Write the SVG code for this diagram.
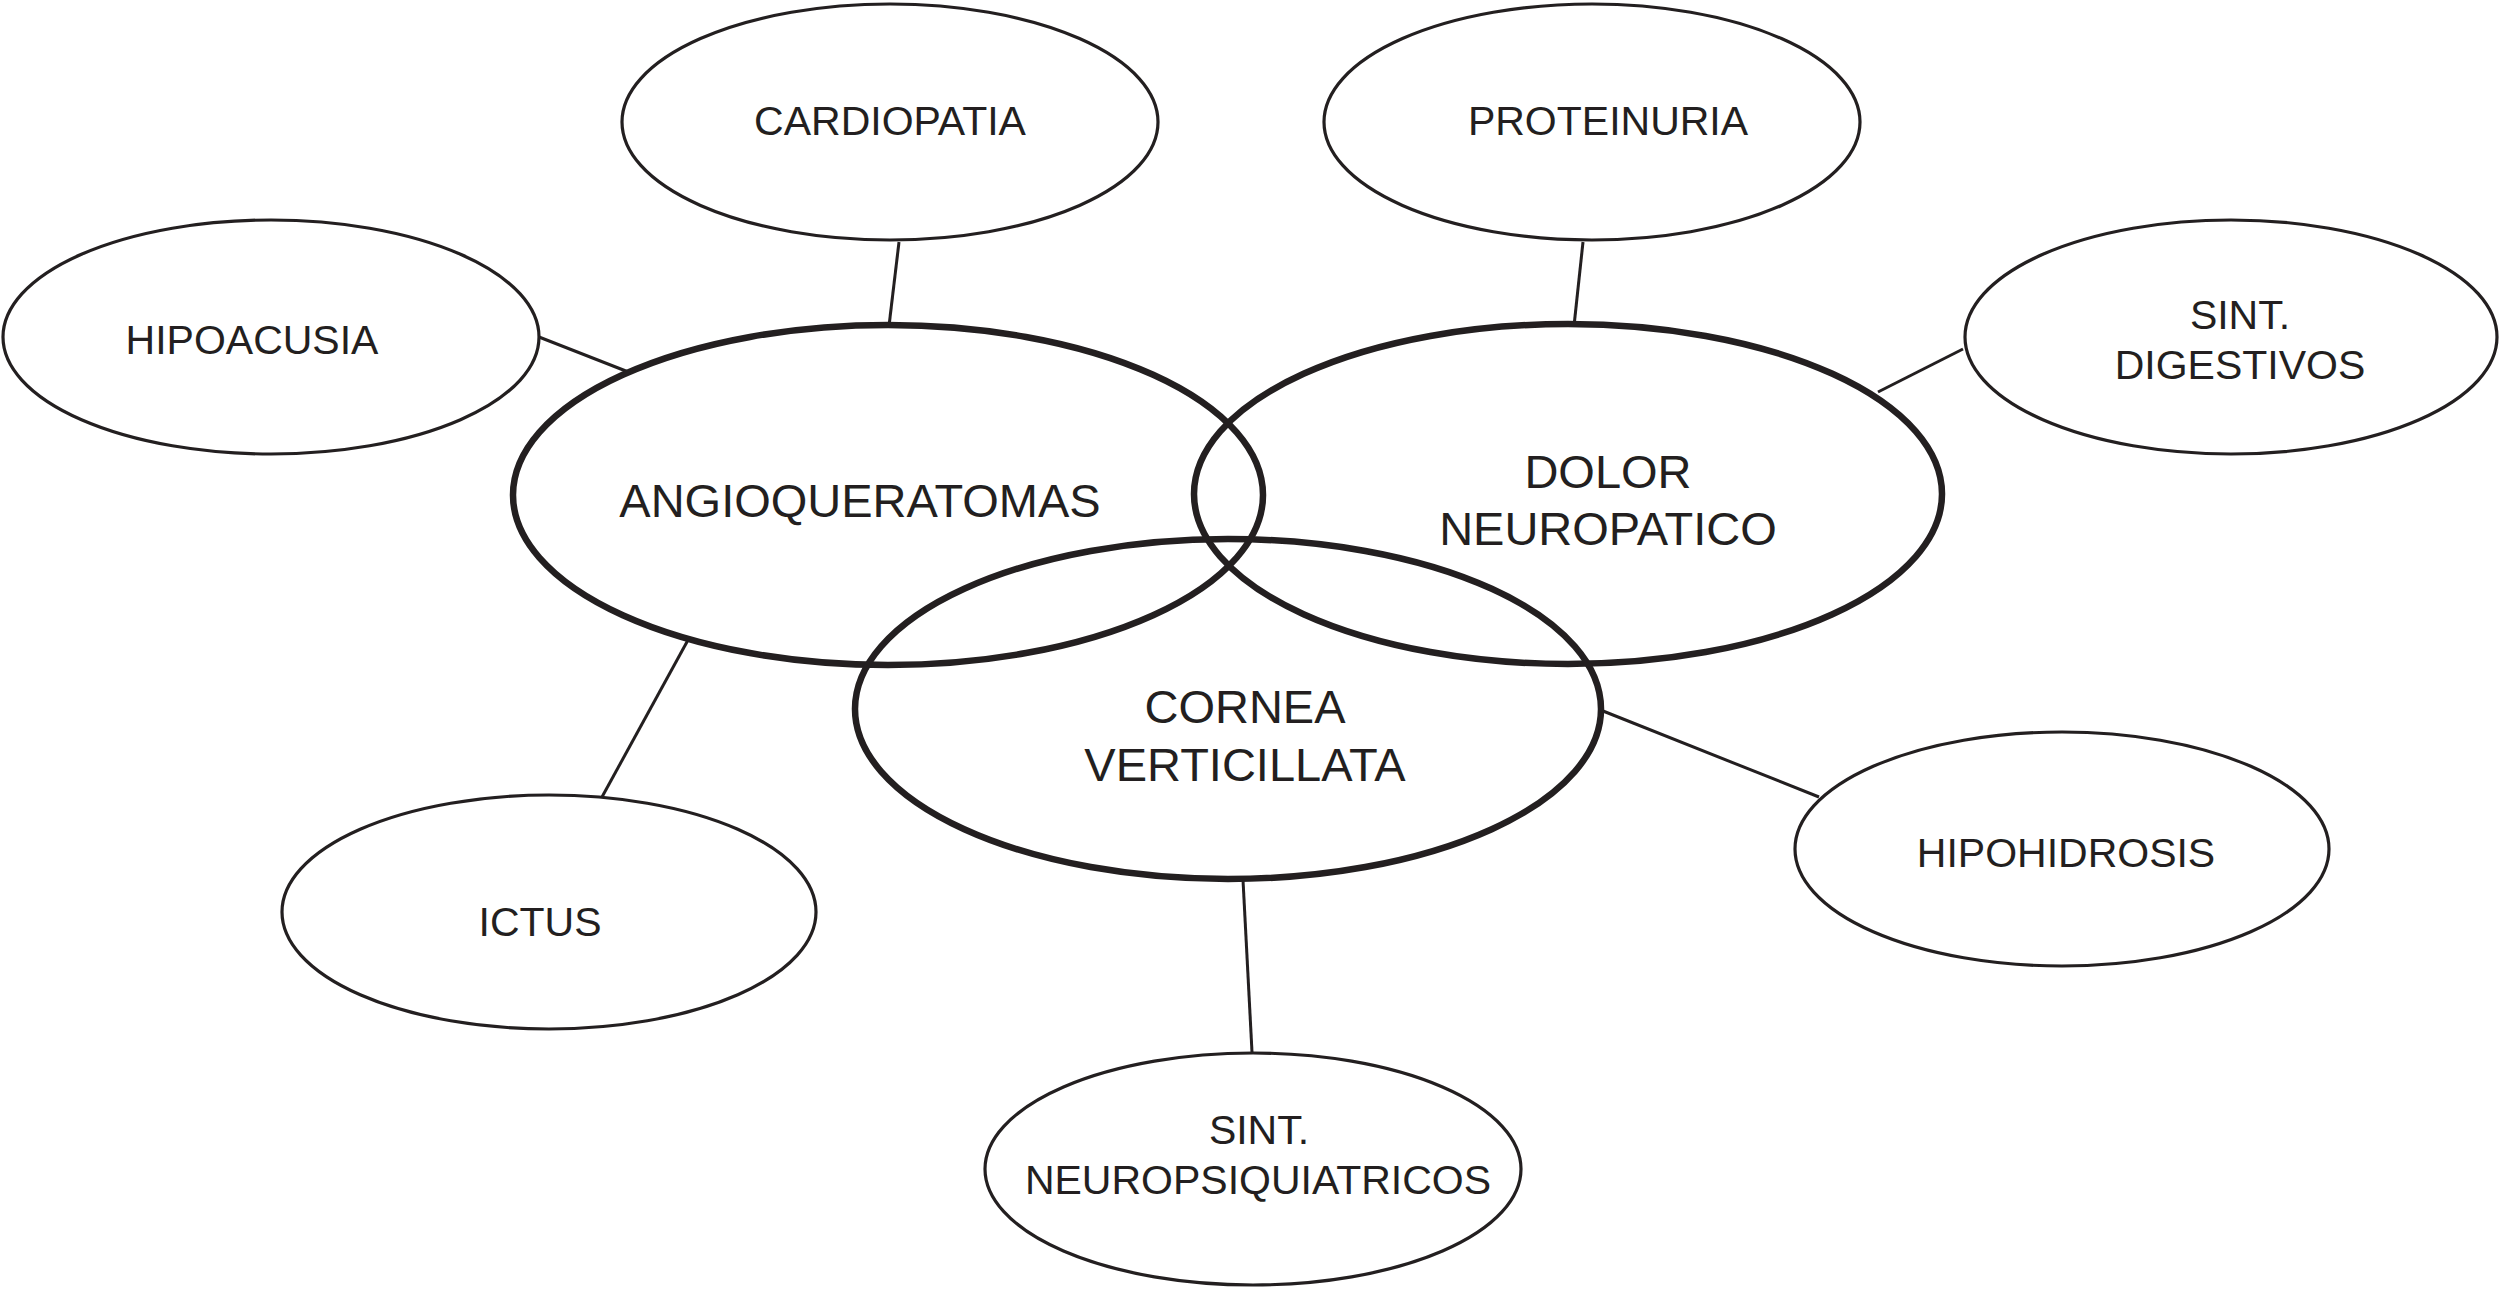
<svg xmlns="http://www.w3.org/2000/svg" width="2500" height="1290" viewBox="0 0 2500 1290">
<style>
.bg{fill:#ffffff}
.small ellipse{fill:#ffffff;stroke:#231f20;stroke-width:3.2}
.big ellipse{fill:none;stroke:#231f20;stroke-width:6.5}
.conn line{stroke:#231f20;stroke-width:3;stroke-linecap:butt}
text{font-family:"Liberation Sans",Arial,Helvetica,sans-serif;fill:#231f20;text-anchor:middle}
.small text{font-size:41px}
.big text{font-size:47px}
</style>
<rect class="bg" x="0" y="0" width="2500" height="1290"/>
<g id="connectors" class="conn">
<line x1="899" y1="242" x2="889" y2="326"/>
<line x1="1583" y1="242" x2="1574" y2="326"/>
<line x1="539" y1="337" x2="631" y2="373"/>
<line x1="1963" y1="349" x2="1878" y2="392"/>
<line x1="602" y1="797" x2="688" y2="640"/>
<line x1="1603" y1="711" x2="1819" y2="797"/>
<line x1="1243" y1="880" x2="1252" y2="1052"/>
</g>
<g id="node-cardiopatia" class="small">
<ellipse cx="890" cy="122" rx="268" ry="118"/>
<text x="890" y="135">CARDIOPATIA</text>
</g>
<g id="node-proteinuria" class="small">
<ellipse cx="1592" cy="122" rx="268" ry="118"/>
<text x="1608" y="135">PROTEINURIA</text>
</g>
<g id="node-hipoacusia" class="small">
<ellipse cx="271" cy="337" rx="268" ry="117"/>
<text x="252" y="354">HIPOACUSIA</text>
</g>
<g id="node-sint-digestivos" class="small">
<ellipse cx="2231" cy="337" rx="266" ry="117"/>
<text x="2240" y="329">SINT.</text>
<text x="2240" y="379">DIGESTIVOS</text>
</g>
<g id="node-ictus" class="small">
<ellipse cx="549" cy="912" rx="267" ry="117"/>
<text x="540" y="936">ICTUS</text>
</g>
<g id="node-hipohidrosis" class="small">
<ellipse cx="2062" cy="849" rx="267" ry="117"/>
<text x="2066" y="867">HIPOHIDROSIS</text>
</g>
<g id="node-sint-neuropsiquiatricos" class="small">
<ellipse cx="1253" cy="1169" rx="268" ry="116"/>
<text x="1259" y="1144">SINT.</text>
<text x="1258" y="1194">NEUROPSIQUIATRICOS</text>
</g>
<g id="node-angioqueratomas" class="big">
<ellipse cx="888" cy="495" rx="375" ry="170"/>
<text x="860" y="517">ANGIOQUERATOMAS</text>
</g>
<g id="node-dolor-neuropatico" class="big">
<ellipse cx="1568" cy="494" rx="374" ry="170"/>
<text x="1608" y="488">DOLOR</text>
<text x="1608" y="545">NEUROPATICO</text>
</g>
<g id="node-cornea-verticillata" class="big">
<ellipse cx="1228" cy="709" rx="373" ry="170"/>
<text x="1245" y="723">CORNEA</text>
<text x="1245" y="781">VERTICILLATA</text>
</g>
</svg>
